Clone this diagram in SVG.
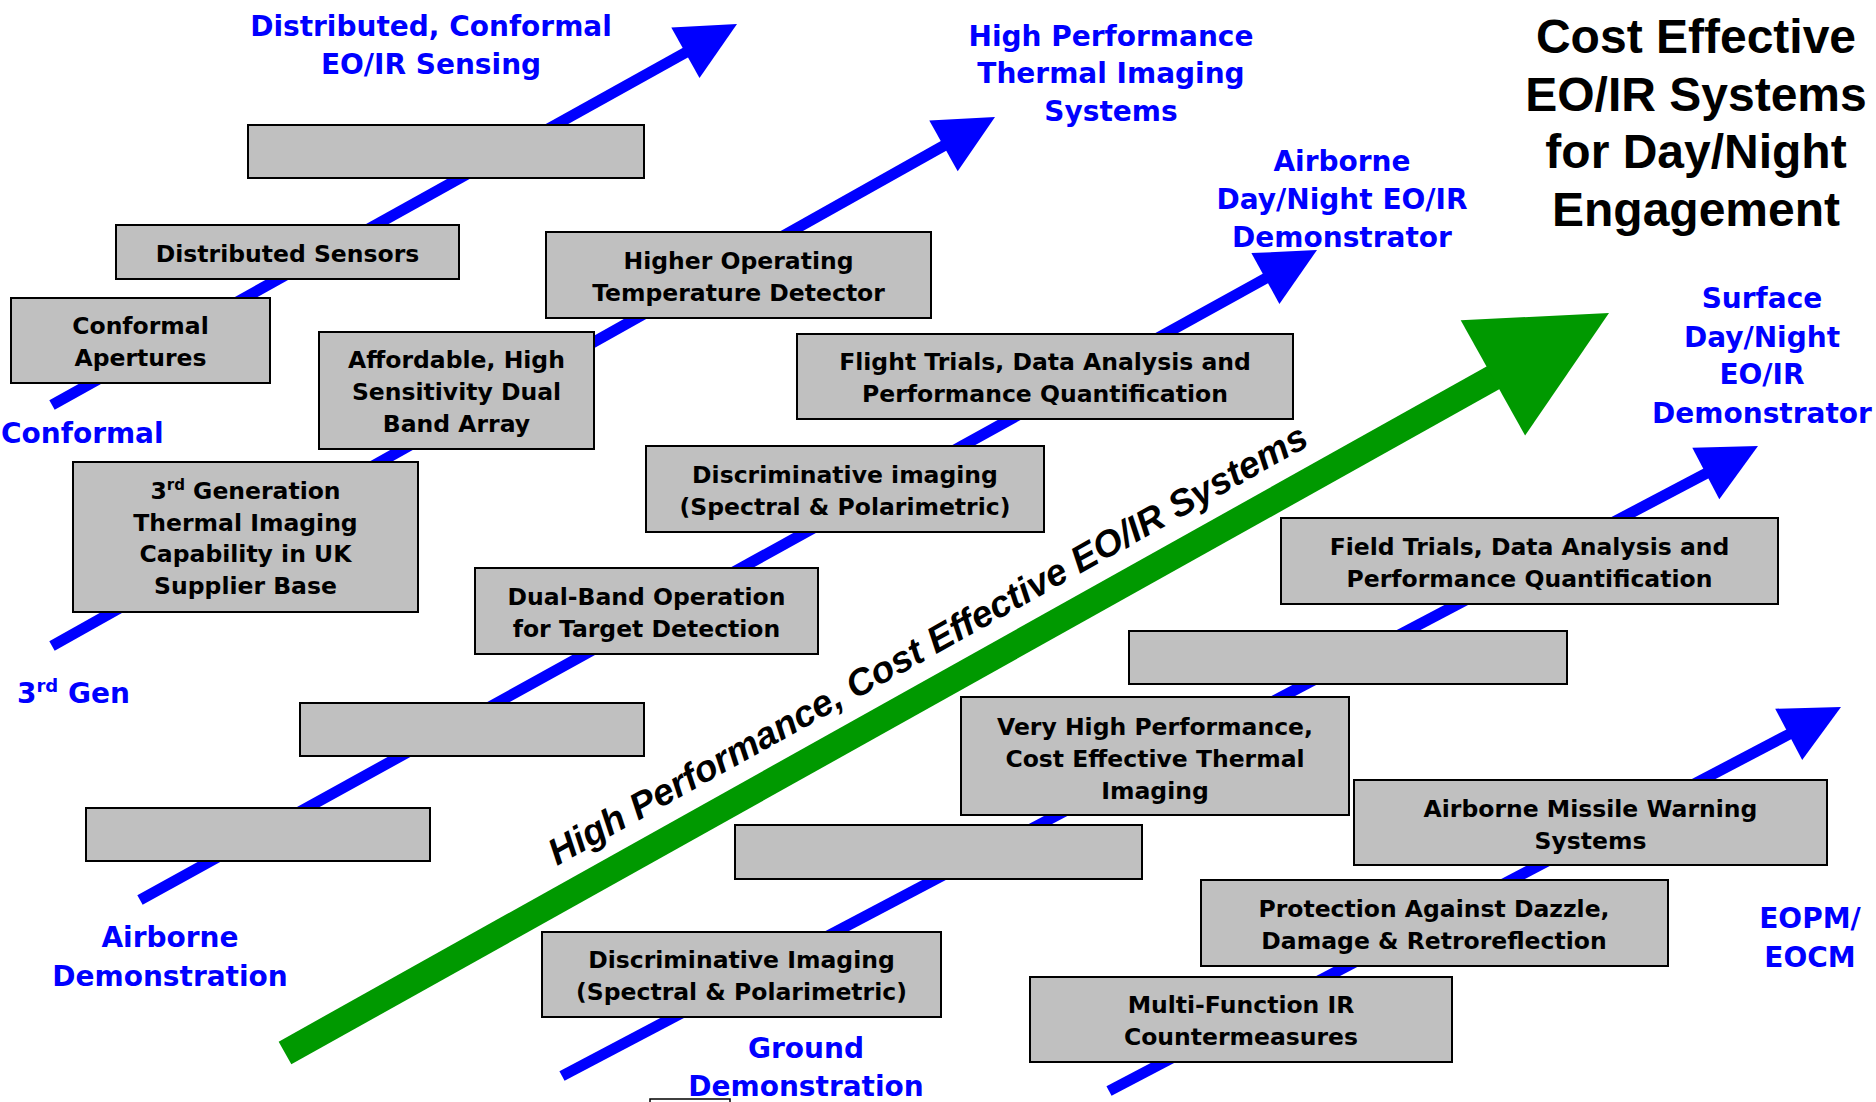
<svg xmlns="http://www.w3.org/2000/svg" width="1876" height="1102" viewBox="0 0 1876 1102">
<style>
.box{fill:#C0C0C0;stroke:#000;stroke-width:2}
.bt{font-family:"DejaVu Sans",Verdana,sans-serif;font-weight:bold;font-size:23.5px;fill:#000;text-anchor:middle}
.bl{font-family:"DejaVu Sans",Verdana,sans-serif;font-weight:bold;font-size:28px;fill:#0000FF;text-anchor:middle}
.bls{font-family:"DejaVu Sans",Verdana,sans-serif;font-weight:bold;font-size:28px;fill:#0000FF;text-anchor:start}
.shaft{stroke:#0000FF;stroke-width:11;fill:none;stroke-linecap:butt}
.head{fill:#0000FF}
.title{font-family:"Liberation Sans",Arial,sans-serif;font-weight:bold;font-size:48px;fill:#000;text-anchor:middle}
.gt{font-family:"Liberation Sans",Arial,sans-serif;font-weight:bold;font-style:italic;font-size:37.2px;fill:#000}
</style>
<rect width="1876" height="1102" fill="#fff"/>
<g id="connectors">
  <g id="arrow-conformal">
    <line class="shaft" x1="52" y1="405" x2="687" y2="51.7"/>
    <polygon class="head" points="737,24 671.3,27.4 699.5,78"/>
  </g>
  <g id="arrow-3rdgen">
    <line class="shaft" x1="52" y1="646" x2="945.3" y2="144.9"/>
    <polygon class="head" points="995,117 929.3,120.6 957.7,171.2"/>
  </g>
  <g id="arrow-airborne">
    <line class="shaft" x1="140" y1="900" x2="1267.2" y2="277.5"/>
    <polygon class="head" points="1317,250 1251.4,253.1 1279.4,303.9"/>
  </g>
  <g id="arrow-ground">
    <line class="shaft" x1="562" y1="1076" x2="1707.6" y2="472.6"/>
    <polygon class="head" points="1758,446 1692.3,447.8 1719.3,499.2"/>
  </g>
  <g id="arrow-eopm">
    <line class="shaft" x1="1109" y1="1091" x2="1790.5" y2="733.5"/>
    <polygon class="head" points="1841,707 1775.2,708.7 1802.2,760.1"/>
  </g>
  <g id="arrow-green">
    <line x1="285" y1="1053" x2="1496" y2="376.2" stroke="#009900" stroke-width="26" stroke-linecap="butt"/>
    <polygon fill="#009900" points="1609,313 1460.7,320.3 1525.1,435.5"/>
    <text class="gt" x="557" y="866" transform="rotate(-29.2 557 866)">High Performance, Cost Effective EO/IR Systems</text>
  </g>
</g>

<g id="n-blank1"><rect class="box" x="248" y="125" width="396" height="53"/></g>
<g id="n-distributed"><rect class="box" x="116" y="225" width="343" height="54"/>
  <text class="bt" x="287.5" y="262">Distributed Sensors</text></g>
<g id="n-conformal"><rect class="box" x="11" y="298" width="259" height="85"/>
  <text class="bt" x="140.5" y="334">Conformal</text><text class="bt" x="140.5" y="366">Apertures</text></g>
<g id="n-affordable"><rect class="box" x="319" y="332" width="275" height="117"/>
  <text class="bt" x="456.5" y="368">Affordable, High</text><text class="bt" x="456.5" y="400">Sensitivity Dual</text><text class="bt" x="456.5" y="432">Band Array</text></g>
<g id="n-higher"><rect class="box" x="546" y="232" width="385" height="86"/>
  <text class="bt" x="738.5" y="269">Higher Operating</text><text class="bt" x="738.5" y="301">Temperature Detector</text></g>
<g id="n-3rdgen"><rect class="box" x="73" y="462" width="345" height="150"/>
  <text class="bt" x="245.5" y="499">3<tspan font-size="15" dy="-9">rd</tspan><tspan dy="9"> Generation</tspan></text>
  <text class="bt" x="245.5" y="531">Thermal Imaging</text>
  <text class="bt" x="245.5" y="562">Capability in UK</text>
  <text class="bt" x="245.5" y="594">Supplier Base</text></g>
<g id="n-flight"><rect class="box" x="797" y="334" width="496" height="85"/>
  <text class="bt" x="1045" y="370">Flight Trials, Data Analysis and</text><text class="bt" x="1045" y="402">Performance Quantification</text></g>
<g id="n-discrim1"><rect class="box" x="646" y="446" width="398" height="86"/>
  <text class="bt" x="845" y="483">Discriminative imaging</text><text class="bt" x="845" y="515">(Spectral &amp; Polarimetric)</text></g>
<g id="n-dualband"><rect class="box" x="475" y="568" width="343" height="86"/>
  <text class="bt" x="646.5" y="605">Dual-Band Operation</text><text class="bt" x="646.5" y="637">for Target Detection</text></g>
<g id="n-blank2"><rect class="box" x="300" y="703" width="344" height="53"/></g>
<g id="n-blank3"><rect class="box" x="86" y="808" width="344" height="53"/></g>
<g id="n-discrim2"><rect class="box" x="542" y="932" width="399" height="85"/>
  <text class="bt" x="741.5" y="968">Discriminative Imaging</text><text class="bt" x="741.5" y="1000">(Spectral &amp; Polarimetric)</text></g>
<g id="n-blank4"><rect class="box" x="735" y="825" width="407" height="54"/></g>
<g id="n-veryhigh"><rect class="box" x="961" y="697" width="388" height="118"/>
  <text class="bt" x="1155" y="735">Very High Performance,</text><text class="bt" x="1155" y="767">Cost Effective Thermal</text><text class="bt" x="1155" y="799">Imaging</text></g>
<g id="n-blank5"><rect class="box" x="1129" y="631" width="438" height="53"/></g>
<g id="n-field"><rect class="box" x="1281" y="518" width="497" height="86"/>
  <text class="bt" x="1529.5" y="555">Field Trials, Data Analysis and</text><text class="bt" x="1529.5" y="587">Performance Quantification</text></g>
<g id="n-missile"><rect class="box" x="1354" y="780" width="473" height="85"/>
  <text class="bt" x="1590.5" y="817">Airborne Missile Warning</text><text class="bt" x="1590.5" y="849">Systems</text></g>
<g id="n-dazzle"><rect class="box" x="1201" y="880" width="467" height="86"/>
  <text class="bt" x="1434" y="917">Protection Against Dazzle,</text><text class="bt" x="1434" y="949">Damage &amp; Retroreflection</text></g>
<g id="n-mfircm"><rect class="box" x="1030" y="977" width="422" height="85"/>
  <text class="bt" x="1241" y="1013">Multi-Function IR</text><text class="bt" x="1241" y="1045">Countermeasures</text></g>
<g id="n-partial"><rect x="650" y="1099" width="80" height="20" fill="#fff" stroke="#000" stroke-width="1.5"/></g>

<g id="labels">
  <text class="bl" x="431" y="36">Distributed, Conformal</text>
  <text class="bl" x="431" y="74">EO/IR Sensing</text>
  <text class="bl" x="1111" y="46">High Performance</text>
  <text class="bl" x="1111" y="83">Thermal Imaging</text>
  <text class="bl" x="1111" y="121">Systems</text>
  <text class="bl" x="1342" y="171">Airborne</text>
  <text class="bl" x="1342" y="209">Day/Night EO/IR</text>
  <text class="bl" x="1342" y="247">Demonstrator</text>
  <text class="bl" x="1762" y="308">Surface</text>
  <text class="bl" x="1762" y="347">Day/Night</text>
  <text class="bl" x="1762" y="384">EO/IR</text>
  <text class="bl" x="1762" y="423">Demonstrator</text>
  <text class="bls" x="1" y="443">Conformal</text>
  <text class="bls" x="17" y="703">3<tspan font-size="18" dy="-11">rd</tspan><tspan dy="11"> Gen</tspan></text>
  <text class="bl" x="170" y="947">Airborne</text>
  <text class="bl" x="170" y="986">Demonstration</text>
  <text class="bl" x="806" y="1058">Ground</text>
  <text class="bl" x="806" y="1096">Demonstration</text>
  <text class="bl" x="1810" y="928">EOPM/</text>
  <text class="bl" x="1810" y="967">EOCM</text>
</g>
<g id="title">
  <text class="title" x="1696" y="53">Cost Effective</text>
  <text class="title" x="1696" y="111">EO/IR Systems</text>
  <text class="title" x="1696" y="168">for Day/Night</text>
  <text class="title" x="1696" y="226">Engagement</text>
</g>
</svg>
